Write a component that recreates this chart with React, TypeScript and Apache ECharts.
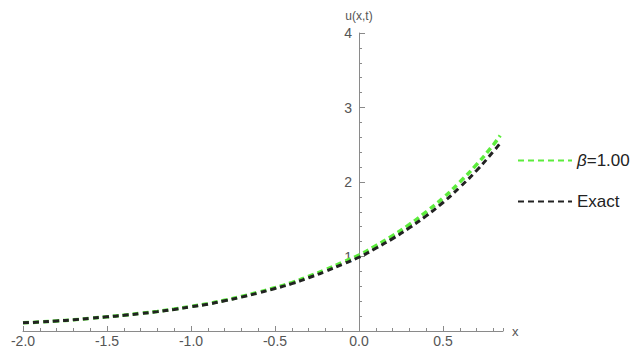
import React, { useEffect, useRef } from "react";
import * as echarts from "echarts";

const xValues = [
  -2.0, -1.9, -1.8, -1.7, -1.6, -1.5, -1.4, -1.3, -1.2, -1.1, -1.0, -0.9, -0.8, -0.7, -0.6,
  -0.5, -0.4, -0.3, -0.2, -0.1, 0.0, 0.1, 0.2, 0.3, 0.4, 0.5, 0.6, 0.7, 0.8, 0.84,
];
const betaValues = [
  0.11, 0.12, 0.135, 0.15, 0.17, 0.19, 0.212, 0.237, 0.263, 0.294, 0.33, 0.366, 0.412, 0.463,
  0.52, 0.582, 0.65, 0.733, 0.822, 0.92, 1.02, 1.145, 1.28, 1.43, 1.6, 1.785, 2.0, 2.235, 2.5,
  2.625,
];
const exactValues = [
  0.11, 0.12, 0.135, 0.15, 0.17, 0.19, 0.21, 0.235, 0.26, 0.29, 0.325, 0.36, 0.405, 0.455, 0.51,
  0.57, 0.635, 0.715, 0.8, 0.895, 0.99, 1.11, 1.24, 1.385, 1.545, 1.725, 1.93, 2.155, 2.41, 2.52,
];
const seriesNames = ["β=1.00", "Exact"];

const X_MIN = -2;
const X_MAX = 0.857;

export default function App() {
  const ref = useRef<HTMLDivElement>(null);
  useEffect(() => {
    if (!ref.current) return;
    const chart = echarts.init(ref.current, null, { renderer: "svg" });
    const axisColor = "#8a8a8a";
    const labelColor = "#555";
    const font = "Liberation Sans, Arial, sans-serif";
    const gridLeft = 23;
    chart.setOption({
      animation: false,
      grid: { left: gridLeft, right: 132, top: 33, bottom: 17, containLabel: false },
      legend: {
        orient: "vertical",
        left: 512,
        top: 147,
        itemWidth: 54,
        itemHeight: 14,
        itemGap: 24,
        data: seriesNames,
        itemStyle: { opacity: 0 },
        formatter: (name: string) => (name.startsWith("β") ? "{i|β}=1.00" : name),
        textStyle: {
          fontSize: 17,
          color: "#222",
          fontFamily: font,
          rich: { i: { fontStyle: "italic", fontSize: 17, color: "#222", fontFamily: font } },
        },
      },
      xAxis: [
        {
          type: "value",
          position: "bottom",
          min: X_MIN,
          max: X_MAX,
          interval: 0.5,
          name: "x",
          nameLocation: "end",
          nameGap: 9,
          nameTextStyle: { color: labelColor, fontSize: 13, fontFamily: font },
          axisLine: { show: true, onZero: false, lineStyle: { color: axisColor, width: 1 } },
          axisTick: { show: true, inside: true, length: 5, lineStyle: { color: axisColor } },
          minorTick: { show: false },
          splitLine: { show: false },
          axisLabel: {
            color: labelColor,
            fontSize: 14,
            fontFamily: font,
            margin: 3,
            showMaxLabel: false,
            formatter: (v: number) => v.toFixed(1),
          },
        },
        {
          type: "value",
          position: "bottom",
          min: X_MIN,
          max: X_MAX,
          interval: 0.1,
          axisLine: { show: false, onZero: false },
          axisTick: { show: true, inside: true, length: 3, lineStyle: { color: axisColor } },
          axisLabel: { show: false },
          splitLine: { show: false },
        },
      ],
      yAxis: {
        type: "value",
        position: "left",
        min: 0,
        max: 4,
        interval: 1,
        name: "u(x,t)",
        nameLocation: "end",
        nameGap: 11,
        nameTextStyle: { color: labelColor, fontSize: 12, fontFamily: font },
        axisLine: { show: true, onZero: false, lineStyle: { color: axisColor, width: 1 } },
        axisTick: { show: true, inside: true, length: 6, lineStyle: { color: axisColor } },
        minorTick: { show: true, splitNumber: 5, length: 3, lineStyle: { color: axisColor } },
        splitLine: { show: false },
        axisLabel: {
          color: labelColor,
          fontSize: 14,
          fontFamily: font,
          margin: 7,
          showMinLabel: false,
        },
      },
      series: [
        {
          name: seriesNames[0],
          type: "line",
          xAxisIndex: 0,
          data: xValues.map((x, i) => [x, betaValues[i]]),
          showSymbol: false,
          symbol: "none",
          smooth: true,
          lineStyle: { color: "#5cec3c", width: 3.5, type: [6, 4] },
          itemStyle: { color: "#5cec3c" },
          z: 2,
        },
        {
          name: seriesNames[1],
          type: "line",
          xAxisIndex: 0,
          data: xValues.map((x, i) => [x, exactValues[i]]),
          showSymbol: false,
          symbol: "none",
          smooth: true,
          lineStyle: { color: "#222", width: 3, type: [6, 4] },
          itemStyle: { color: "#222" },
          z: 3,
        },
      ],
    });
    // move the y axis onto x = 0, using the library's own x scale
    const zeroPx = chart.convertToPixel({ xAxisIndex: 0 }, 0) as number;
    chart.setOption({ yAxis: { offset: -(zeroPx - gridLeft) } });
    return () => chart.dispose();
  }, []);
  return (
    <div
      ref={ref}
      style={{ position: "fixed", left: 0, top: 0, width: 635, height: 348, background: "#fff" }}
    />
  );
}
